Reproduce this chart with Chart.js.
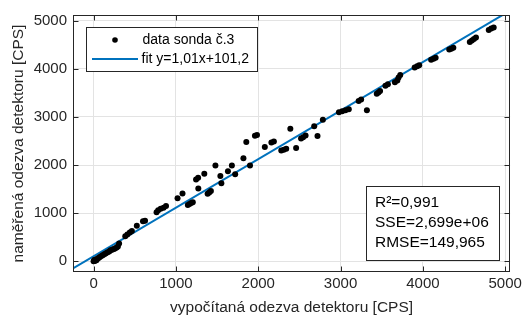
<!DOCTYPE html>
<html>
<head>
<meta charset="utf-8">
<script src="https://cdn.jsdelivr.net/npm/chart.js@4/dist/chart.umd.min.js"></script>
<style>
  html, body { margin: 0; padding: 0; background: #fff; }
  #wrap { width: 525px; height: 324px; }
</style>
</head>
<body>
<div id="wrap"><canvas id="fitChart" width="525" height="324"></canvas></div>
<script>
// vypočítaná odezva (x) a naměřená odezva (y), sonda č.3
const computedCps = [
    0, 8, 15, 25, 35, 50, 65, 80, 100, 115, 135, 150, 170, 190, 205, 225, 245, 260, 280, 295,
    310, 385, 410, 440, 465, 525, 600, 625, 765, 785, 815, 850, 880, 1020, 1080, 1145, 1165, 1185, 1205, 1245,
    1270, 1272, 1345, 1385, 1405, 1425, 1480, 1540, 1552, 1632, 1680, 1720, 1820, 1855, 1900, 1960, 1985, 2080, 2160, 2190,
    2280, 2310, 2340, 2390, 2460, 2520, 2545, 2575, 2680, 2720, 2785, 2980, 3020, 3060, 3100, 3220, 3250, 3320, 3440, 3460,
    3480, 3545, 3575, 3660, 3690, 3705, 3725, 3900, 3930, 3955, 4100, 4130, 4155, 4320, 4345, 4370, 4570, 4595, 4620, 4645,
    4800, 4830, 4860
];
const measuredCps = [
    0, 25, 5, 35, 20, 55, 70, 90, 115, 130, 150, 165, 185, 200, 225, 240, 255, 265, 285, 305,
    370, 520, 555, 595, 630, 735, 830, 840, 1020, 1060, 1090, 1110, 1150, 1310, 1410, 1170, 1190, 1210, 1225, 1700,
    1735, 1510, 1820, 1400, 1430, 1460, 1990, 1770, 1620, 1870, 1990, 1810, 2140, 2480, 1990, 2610, 2625, 2375, 2470, 2490,
    2300, 2320, 2340, 2755, 2355, 2550, 2580, 2615, 2805, 2605, 2940, 3100, 3120, 3140, 3160, 3330, 3360, 3140, 3480, 3510,
    3540, 3650, 3680, 3720, 3760, 3820, 3870, 4030, 4055, 4075, 4190, 4210, 4230, 4400, 4420, 4440, 4560, 4590, 4620, 4650,
    4810, 4840, 4860
];

// lineární fit y = a*x + b
const fitSlope = 1.01;
const fitIntercept = 101.2;

const xTicks = [0, 1000, 2000, 3000, 4000, 5000];
const yTicks = [0, 1000, 2000, 3000, 4000, 5000];
const xRange = [-250, 5060];
const yRange = [-225, 5120];

const legendLabels = ['data sonda č.3', 'fit y=1,01x+101,2'];
const statLines = ['R²=0,991', 'SSE=2,699e+06', 'RMSE=149,965'];

const FONT = "'Liberation Sans', Arial, Helvetica, sans-serif";
const AXIS_COLOR = '#262626';
const FIT_COLOR = '#0072BD';

const points = computedCps.map((x, i) => ({ x: x, y: measuredCps[i] }));
const fitLine = xRange.map(x => ({ x: x, y: fitSlope * x + fitIntercept }));

// rámeček os, vnitřní značky, legenda a box se statistikou
const axesFrame = {
    id: 'axesFrame',
    afterDatasetsDraw(chart) {
        const { ctx, chartArea: a, scales } = chart;
        const L = Math.round(a.left) + 0.5, R = Math.round(a.right) - 0.5;
        const T = Math.round(a.top) + 0.5, B = Math.round(a.bottom) - 0.5;
        const tick = 5;
        ctx.save();
        ctx.strokeStyle = AXIS_COLOR;
        ctx.lineWidth = 1;
        ctx.strokeRect(L, T, R - L, B - T);
        ctx.beginPath();
        xTicks.forEach(v => {
            const px = Math.round(scales.x.getPixelForValue(v)) + 0.5;
            ctx.moveTo(px, B); ctx.lineTo(px, B - tick);
            ctx.moveTo(px, T); ctx.lineTo(px, T + tick);
        });
        yTicks.forEach(v => {
            const py = Math.round(scales.y.getPixelForValue(v)) + 0.5;
            ctx.moveTo(L, py); ctx.lineTo(L + tick, py);
            ctx.moveTo(R, py); ctx.lineTo(R - tick, py);
        });
        ctx.stroke();
        ctx.restore();
    },
    afterDraw(chart) {
        const { ctx } = chart;
        ctx.save();

        // legenda
        ctx.fillStyle = '#fff';
        ctx.fillRect(86.5, 27.5, 171, 44);
        ctx.strokeStyle = AXIS_COLOR;
        ctx.lineWidth = 1;
        ctx.strokeRect(86.5, 27.5, 171, 44);
        ctx.fillStyle = '#000';
        ctx.beginPath();
        ctx.arc(115, 40, 2.8, 0, Math.PI * 2);
        ctx.fill();
        ctx.strokeStyle = FIT_COLOR;
        ctx.lineWidth = 2;
        ctx.beginPath();
        ctx.moveTo(92, 59);
        ctx.lineTo(138, 59);
        ctx.stroke();
        ctx.font = '14px ' + FONT;
        ctx.textBaseline = 'middle';
        ctx.fillStyle = '#000';
        ctx.fillText(legendLabels[0], 142.5, 40.5);
        ctx.fillText(legendLabels[1], 141.5, 59.5);

        // statistika fitu
        ctx.fillStyle = '#fff';
        ctx.fillRect(366.5, 186.5, 133, 74);
        ctx.strokeStyle = AXIS_COLOR;
        ctx.lineWidth = 1;
        ctx.strokeRect(366.5, 186.5, 133, 74);
        ctx.fillStyle = '#000';
        ctx.font = '15.5px ' + FONT;
        statLines.forEach((t, i) => ctx.fillText(t, 375, 203 + i * 20));

        ctx.restore();
    }
};

new Chart(document.getElementById('fitChart').getContext('2d'), {
    type: 'scatter',
    data: {
        datasets: [{
            label: legendLabels[0],
            data: points,
            pointRadius: 3,
            pointBackgroundColor: '#000',
            pointBorderWidth: 0,
            borderColor: '#000'
        }, {
            label: legendLabels[1],
            data: fitLine,
            showLine: true,
            pointRadius: 0,
            borderColor: FIT_COLOR,
            borderWidth: 2,
            clip: 0
        }]
    },
    options: {
        responsive: false,
        animation: false,
        events: [],
        layout: { padding: { top: 9, right: 10, left: 0, bottom: 0 } },
        plugins: { legend: { display: false }, tooltip: { enabled: false } },
        scales: {
            x: {
                type: 'linear',
                min: xRange[0],
                max: xRange[1],
                afterBuildTicks: axis => { axis.ticks = xTicks.map(v => ({ value: v })); },
                afterFit: axis => { axis.height = 52; },
                grid: { color: '#e3e3e3', drawTicks: false },
                border: { display: false },
                ticks: {
                    color: AXIS_COLOR,
                    padding: 3,
                    maxRotation: 0,
                    callback: v => String(v),
                    font: { family: FONT, size: 15 }
                },
                title: {
                    display: true,
                    text: 'vypočítaná odezva detektoru [CPS]',
                    color: AXIS_COLOR,
                    font: { family: FONT, size: 15.5 },
                    padding: { top: 0, bottom: 7 }
                }
            },
            y: {
                type: 'linear',
                min: yRange[0],
                max: yRange[1],
                afterBuildTicks: axis => { axis.ticks = yTicks.map(v => ({ value: v })); },
                afterFit: axis => { axis.width = 73; },
                grid: { color: '#e3e3e3', drawTicks: false },
                border: { display: false },
                ticks: {
                    color: AXIS_COLOR,
                    padding: 6,
                    callback: v => String(v),
                    font: { family: FONT, size: 15 }
                },
                title: {
                    display: true,
                    text: 'naměřená odezva detektoru [CPS]',
                    color: AXIS_COLOR,
                    font: { family: FONT, size: 15.5 },
                    padding: { top: 9, bottom: 0 }
                }
            }
        }
    },
    plugins: [axesFrame]
});
</script>
</body>
</html>
